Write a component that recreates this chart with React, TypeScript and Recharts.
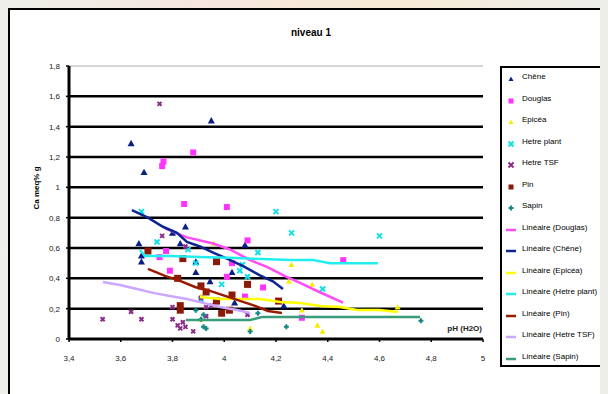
import { ScatterChart, Scatter, XAxis, YAxis, ReferenceLine } from 'recharts';

// pH (H2O) / Ca meq% g
const cheneX = [3.64, 3.69, 3.95, 3.67, 3.68, 3.68, 3.8, 3.83, 3.85, 3.89, 3.89, 3.945, 4.03, 4.08, 4.04, 4.23];
const cheneY = [1.29, 1.1, 1.44, 0.63, 0.55, 0.51, 0.7, 0.63, 0.74, 0.51, 0.44, 0.38, 0.44, 0.62, 0.24, 0.22];

const douglasX = [3.76, 3.765, 3.88, 3.845, 4.01, 3.775, 3.75, 3.79, 4.09, 4.03, 4.01, 4.15, 4.08, 4.3, 4.46];
const douglasY = [1.14, 1.17, 1.23, 0.89, 0.87, 0.58, 0.54, 0.45, 0.65, 0.5, 0.41, 0.34, 0.28, 0.14, 0.52];

const epiceaX = [3.96, 3.91, 3.91, 4.26, 4.34, 4.25, 4.3, 4.36, 4.38, 4.1, 4.67];
const epiceaY = [0.63, 0.28, 0.13, 0.49, 0.36, 0.38, 0.19, 0.09, 0.05, 0.07, 0.21];

const hetrePlantX = [3.68, 3.74, 3.89, 4.2, 4.26, 4.13, 4.06, 4.09, 3.99, 4.38, 4.6, 3.91, 3.86, 4.07];
const hetrePlantY = [0.84, 0.64, 0.5, 0.84, 0.7, 0.57, 0.45, 0.41, 0.36, 0.33, 0.68, 0.26, 0.59, 0.49];

const hetreTsfX = [3.75, 3.53, 3.64, 3.68, 3.76, 3.85, 3.8, 3.8, 3.82, 3.83, 3.84, 3.85, 3.88, 3.91, 3.93, 3.93, 4.09, 3.95];
const hetreTsfY = [1.55, 0.13, 0.18, 0.13, 0.68, 0.61, 0.21, 0.13, 0.09, 0.07, 0.11, 0.08, 0.05, 0.27, 0.21, 0.15, 0.16, 0.22];

const pinX = [3.705, 3.84, 3.82, 3.83, 3.83, 3.91, 3.93, 3.97, 3.97, 3.99, 4.03, 4.02, 4.09, 4.21];
const pinY = [0.58, 0.53, 0.4, 0.22, 0.19, 0.35, 0.31, 0.51, 0.25, 0.17, 0.29, 0.19, 0.36, 0.25];

const sapinX = [3.89, 3.92, 3.92, 3.93, 4.1, 4.24, 4.13, 4.76, 3.91];
const sapinY = [0.19, 0.16, 0.08, 0.07, 0.05, 0.08, 0.17, 0.12, 0.13];

// "Linéaire" curves
const linDouglasX = [3.771, 3.856, 3.957, 4.022, 4.1, 4.165, 4.235, 4.293, 4.38, 4.459];
const linDouglasY = [0.73, 0.67, 0.63, 0.59, 0.52, 0.475, 0.415, 0.37, 0.3, 0.24];

const linCheneX = [3.643, 3.705, 3.763, 3.817, 3.856, 3.906, 3.957, 4.011, 4.073, 4.138, 4.188, 4.227];
const linCheneY = [0.85, 0.8, 0.74, 0.7, 0.64, 0.61, 0.57, 0.53, 0.48, 0.42, 0.38, 0.33];

const linEpiceaX = [3.906, 3.984, 4.061, 4.138, 4.216, 4.293, 4.37, 4.447, 4.513, 4.6, 4.672];
const linEpiceaY = [0.277, 0.264, 0.264, 0.264, 0.244, 0.238, 0.218, 0.211, 0.191, 0.191, 0.178];

const linHetrePlantX = [3.674, 3.694, 3.79, 3.906, 4.022, 4.138, 4.254, 4.343, 4.409, 4.486, 4.594];
const linHetrePlantY = [0.587, 0.548, 0.548, 0.541, 0.535, 0.528, 0.521, 0.521, 0.5, 0.5, 0.5];

const linPinX = [3.705, 3.771, 3.829, 3.887, 3.945, 4.003, 4.061, 4.119, 4.169, 4.223];
const linPinY = [0.462, 0.416, 0.383, 0.343, 0.317, 0.284, 0.251, 0.218, 0.185, 0.172];

const linHetreTsfX = [3.531, 3.597, 3.663, 3.725, 3.79, 3.856, 3.918, 3.984, 4.049, 4.1];
const linHetreTsfY = [0.376, 0.356, 0.33, 0.304, 0.284, 0.264, 0.238, 0.211, 0.191, 0.172];

const linSapinX = [3.852, 3.984, 4.1, 4.146, 4.293, 4.525, 4.757];
const linSapinY = [0.125, 0.125, 0.125, 0.145, 0.145, 0.145, 0.145];

const xTicks = [3.4, 3.6, 3.8, 4, 4.2, 4.4, 4.6, 4.8, 5];
const yTicks = [0, 0.2, 0.4, 0.6, 0.8, 1, 1.2, 1.4, 1.6, 1.8];

const pts = (xs: number[], ys: number[]) => xs.map((x, i) => ({ x, y: ys[i] }));
const fmt = (v: number) => String(v).replace('.', ',');

type Kind = 'tri' | 'sq' | 'x' | 'plus' | 'line';

const Mark = ({ cx, cy, kind, color, s }: { cx: number; cy: number; kind: Kind; color: string; s: number }) => {
  if (kind === 'tri')
    return <polygon points={`${cx},${cy - s} ${cx + s},${cy + s * 0.8} ${cx - s},${cy + s * 0.8}`} fill={color} />;
  if (kind === 'sq') return <rect x={cx - s} y={cy - s} width={s * 2} height={s * 2} fill={color} />;
  if (kind === 'x')
    return (
      <path
        d={`M${cx - s},${cy - s}L${cx + s},${cy + s}M${cx + s},${cy - s}L${cx - s},${cy + s}`}
        stroke={color}
        strokeWidth={2}
      />
    );
  if (kind === 'plus')
    return (
      <path d={`M${cx - s},${cy}L${cx + s},${cy}M${cx},${cy - s}L${cx},${cy + s}`} stroke={color} strokeWidth={2} />
    );
  return <line x1={cx - 5} x2={cx + 5} y1={cy} y2={cy} stroke={color} strokeWidth={2.5} />;
};

const series = [
  { name: 'Chêne', data: pts(cheneX, cheneY), color: '#0a1f86', kind: 'tri' as Kind, s: 3.5 },
  { name: 'Douglas', data: pts(douglasX, douglasY), color: '#ff33ff', kind: 'sq' as Kind, s: 3 },
  { name: 'Epicéa', data: pts(epiceaX, epiceaY), color: '#f5ec00', kind: 'tri' as Kind, s: 3 },
  { name: 'Hetre plant', data: pts(hetrePlantX, hetrePlantY), color: '#10e0e8', kind: 'x' as Kind, s: 2.5 },
  { name: 'Hetre TSF', data: pts(hetreTsfX, hetreTsfY), color: '#8a2a8a', kind: 'x' as Kind, s: 2 },
  { name: 'Pin', data: pts(pinX, pinY), color: '#8b1a08', kind: 'sq' as Kind, s: 3.5 },
  { name: 'Sapin', data: pts(sapinX, sapinY), color: '#138585', kind: 'plus' as Kind, s: 2.5 },
];

const trends = [
  { name: 'Linéaire (Douglas)', data: pts(linDouglasX, linDouglasY), color: '#ff4cf5' },
  { name: 'Linéaire (Chêne)', data: pts(linCheneX, linCheneY), color: '#0d2590' },
  { name: 'Linéaire (Epicéa)', data: pts(linEpiceaX, linEpiceaY), color: '#ffff00' },
  { name: 'Linéaire (Hetre plant)', data: pts(linHetrePlantX, linHetrePlantY), color: '#22eef2' },
  { name: 'Linéaire (Pin)', data: pts(linPinX, linPinY), color: '#9a1c00' },
  { name: 'Linéaire (Hetre TSF)', data: pts(linHetreTsfX, linHetreTsfY), color: '#cca6ff' },
  { name: 'Linéaire (Sapin)', data: pts(linSapinX, linSapinY), color: '#3a9c78' },
];

const font = '"Liberation Sans", Arial, sans-serif';
const tick = { fill: '#222', fontSize: 8, fontFamily: font };

export default function App() {
  const legendItems = [
    ...series.map((s) => ({ name: s.name, color: s.color, kind: s.kind, s: s.s })),
    ...trends.map((t) => ({ name: t.name, color: t.color, kind: 'line' as Kind, s: 0 })),
  ];
  return (
    <>
      <div
        style={{
          position: 'fixed',
          inset: 0,
          zIndex: -1,
          background: 'linear-gradient(90deg, #eef0ea 0%, #f6e6de 35%, #f8ecd6 65%, #ededea 100%)',
        }}
      />
      <div
        style={{
          position: 'relative',
          width: 620,
          height: 400,
          border: '2px solid #000',
          background: '#fff',
          fontFamily: font,
        }}
      >
        <div
          style={{
            position: 'absolute',
            left: 0,
            top: 17,
            width: 602,
            lineHeight: '12px',
            fontSize: 10,
            fontWeight: 'bold',
            textAlign: 'center',
          }}
        >
          niveau 1
        </div>
        <div
          style={{
            position: 'absolute',
            left: 26,
            top: 178,
            fontSize: 8,
            fontWeight: 'bold',
            whiteSpace: 'nowrap',
            transform: 'translate(-50%, -50%) rotate(-90deg)',
          }}
        >
          Ca meq% g
        </div>
        <ScatterChart width={590} height={384} margin={{ top: 56, right: 117, left: 0, bottom: 25 }}>
          <XAxis
            type="number"
            dataKey="x"
            domain={[3.4, 5]}
            ticks={xTicks}
            tickFormatter={fmt}
            tick={tick}
            height={30}
            tickSize={3}
            tickMargin={13}
            axisLine={{ stroke: '#000', strokeWidth: 3 }}
            tickLine={{ stroke: '#000', strokeWidth: 1.5 }}
            allowDataOverflow
          />
          <YAxis
            type="number"
            dataKey="y"
            domain={[0, 1.8]}
            ticks={yTicks}
            tickFormatter={fmt}
            tick={tick}
            width={59}
            tickSize={3}
            tickMargin={6}
            axisLine={{ stroke: '#000', strokeWidth: 3 }}
            tickLine={{ stroke: '#000', strokeWidth: 1.5 }}
            allowDataOverflow
          />
          {yTicks.slice(1).map((v) => (
            <ReferenceLine
              key={v}
              y={v}
              stroke={v === 1.8 ? '#c8c8c8' : '#000'}
              strokeWidth={v === 1.8 ? 1.5 : 2.5}
            />
          ))}
          {series.map((s) => (
            <Scatter
              key={s.name}
              name={s.name}
              data={s.data}
              isAnimationActive={false}
              shape={(p: any) => <Mark cx={p.cx} cy={p.cy} kind={s.kind} color={s.color} s={s.s} />}
            />
          ))}
          {trends.map((t) => (
            <Scatter
              key={t.name}
              name={t.name}
              data={t.data}
              isAnimationActive={false}
              line={{ stroke: t.color, strokeWidth: 2.5 }}
              shape={() => <g />}
            />
          ))}
        </ScatterChart>
        <div
          style={{
            position: 'absolute',
            left: 412,
            top: 313,
            width: 60,
            lineHeight: '12px',
            fontSize: 8,
            fontWeight: 'bold',
            textAlign: 'right',
            color: '#222',
          }}
        >
          pH (H2O)
        </div>
        <div
          style={{
            position: 'absolute',
            left: 490,
            top: 56,
            width: 104,
            height: 301,
            boxSizing: 'border-box',
            border: '2px solid #000',
            background: '#fff',
          }}
        >
          {legendItems.map((it, i) => (
            <div key={it.name} style={{ position: 'absolute', left: 0, top: 3 + i * 21.5, width: 100, height: 12 }}>
              <svg width={18} height={12} style={{ position: 'absolute', left: 0, top: 2 }}>
                <Mark cx={9} cy={6} kind={it.kind} color={it.color} s={it.kind === 'line' ? 0 : 2.5} />
              </svg>
              <span
                style={{
                  position: 'absolute',
                  left: 20,
                  top: 0,
                  fontSize: 8,
                  lineHeight: '12px',
                  whiteSpace: 'nowrap',
                  color: '#000',
                }}
              >
                {it.name}
              </span>
            </div>
          ))}
        </div>
      </div>
    </>
  );
}
